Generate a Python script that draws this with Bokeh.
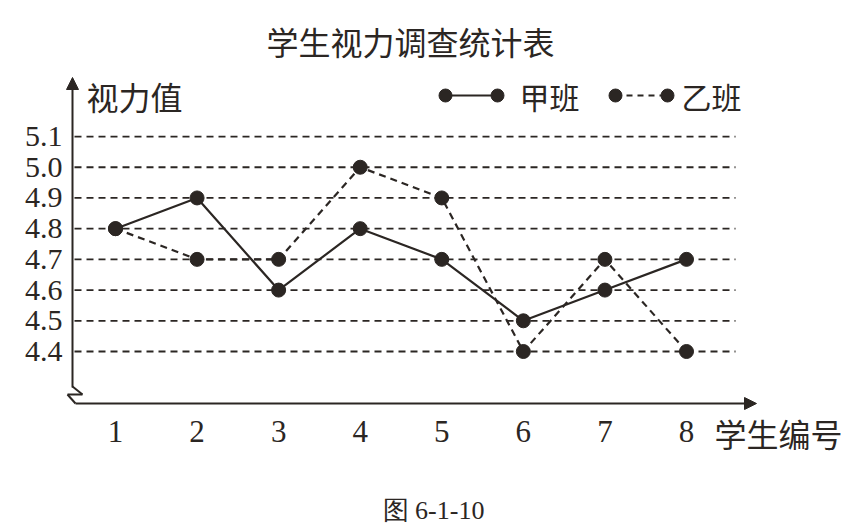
from bokeh.plotting import figure
from bokeh.models import Range1d, Label, Arrow, NormalHead, ColumnDataSource
from bokeh.core.properties import value
from bokeh.embed import file_html
from bokeh.resources import INLINE

# ---------------- data ----------------
students = [1, 2, 3, 4, 5, 6, 7, 8]
class_a = [4.8, 4.9, 4.6, 4.8, 4.7, 4.5, 4.6, 4.7]   # 甲班 (solid)
class_b = [4.8, 4.7, 4.7, 5.0, 4.9, 4.4, 4.7, 4.4]   # 乙班 (dashed)
series_names = ["甲班", "乙班"]
y_ticks = [4.4, 4.5, 4.6, 4.7, 4.8, 4.9, 5.0, 5.1]
y_tick_labels = ["4.4", "4.5", "4.6", "4.7", "4.8", "4.9", "5.0", "5.1"]
x_tick_labels = ["1", "2", "3", "4", "5", "6", "7", "8"]
title_text = "学生视力调查统计表"
y_title = "视力值"
x_title = "学生编号"
caption_text = "图 6-1-10"

# ---------------- style / layout ----------------
INK = "#2b2623"
CJK = "Noto Sans CJK SC"
SERIF = "Liberation Serif"
W, H = 859, 527

# calibration: canvas pixel -> data coordinate
X_PX_PER_UNIT = 81.57
Y_PX_PER_UNIT = 307.1


def dx(px):
    return 1 + (px - 115) / X_PX_PER_UNIT


def dy(py):
    return 4.4 + (351 - py) / Y_PX_PER_UNIT


p = figure(
    width=W, height=H,
    x_range=Range1d(dx(0), dx(W)),
    y_range=Range1d(dy(H), dy(0)),
    x_axis_location=None, y_axis_location=None,
    output_backend="svg", toolbar_location=None,
    min_border=0,
)
p.outline_line_color = None
p.background_fill_color = "white"
p.border_fill_color = "white"
p.grid.visible = False

# tick labels (placed through the data scales)
p.text(x=[dx(62)] * len(y_ticks), y=y_ticks, text=y_tick_labels,
       text_align="right", text_baseline="middle",
       text_font=value(SERIF), text_font_size="30px", text_color=INK)
p.text(x=students, y=[dy(431)] * len(students), text=x_tick_labels,
       text_align="center", text_baseline="middle",
       text_font=value(SERIF), text_font_size="31px", text_color=INK)

# dashed horizontal guide lines
p.segment(x0=dx(74), x1=dx(735), y0=y_ticks, y1=y_ticks,
          line_color=INK, line_width=1.8, line_dash="7 5")

# series
p.line(students, class_b, line_color=INK, line_width=2.2, line_dash="7 5")
p.line(students, class_a, line_color=INK, line_width=2.2)
p.scatter(students, class_b, size=14, fill_color=INK, line_color=INK)
p.scatter(students, class_a, size=14, fill_color=INK, line_color=INK)

# axis arrows
head = dict(size=12, fill_color=INK, line_color=INK)
p.add_layout(Arrow(x_start=dx(72), y_start=dy(387), x_end=dx(72), y_end=dy(77),
                   end=NormalHead(**head), line_color=INK, line_width=2))
p.add_layout(Arrow(x_start=dx(75), y_start=dy(403), x_end=dx(756), y_end=dy(403),
                   end=NormalHead(**head), line_color=INK, line_width=2))
# axis break zigzag
zz_x = [72, 82, 67, 75]
zz_y = [386, 394, 394, 403]
zz = ColumnDataSource(dict(
    x0=[dx(v) for v in zz_x[:-1]], y0=[dy(v) for v in zz_y[:-1]],
    x1=[dx(v) for v in zz_x[1:]], y1=[dy(v) for v in zz_y[1:]],
))
p.add_layout(Arrow(x_start="x0", y_start="y0", x_end="x1", y_end="y1", source=zz,
                   start=None, end=None, line_color=INK, line_width=2))

# legend (dot-line-dot samples)
leg_y = dy(95)
p.line([dx(445), dx(497)], [leg_y, leg_y], line_color=INK, line_width=2.2)
p.scatter([dx(445), dx(497)], [leg_y, leg_y], size=13, fill_color=INK, line_color=INK)
p.line([dx(615), dx(667)], [leg_y, leg_y], line_color=INK, line_width=2.2, line_dash="6 5")
p.scatter([dx(615), dx(667)], [leg_y, leg_y], size=13, fill_color=INK, line_color=INK)


def add_text(txt, x, y, size, align="left", font=CJK):
    p.add_layout(Label(x=x, y=y, text=txt, text_align=align, text_baseline="middle",
                       text_font_size=size, text_font=font, text_color=INK))


add_text(series_names[0], dx(519), leg_y, "30px")
add_text(series_names[1], dx(681), leg_y, "30px")
add_text(title_text, dx(410), dy(40), "32px", align="center")
add_text(y_title, dx(86), dy(95), "32px")
add_text(x_title, dx(714), dy(432), "32px")
add_text(caption_text, dx(433), dy(510), "26px", align="center", font=SERIF)

open("out.html", "w").write(file_html(p, INLINE))
